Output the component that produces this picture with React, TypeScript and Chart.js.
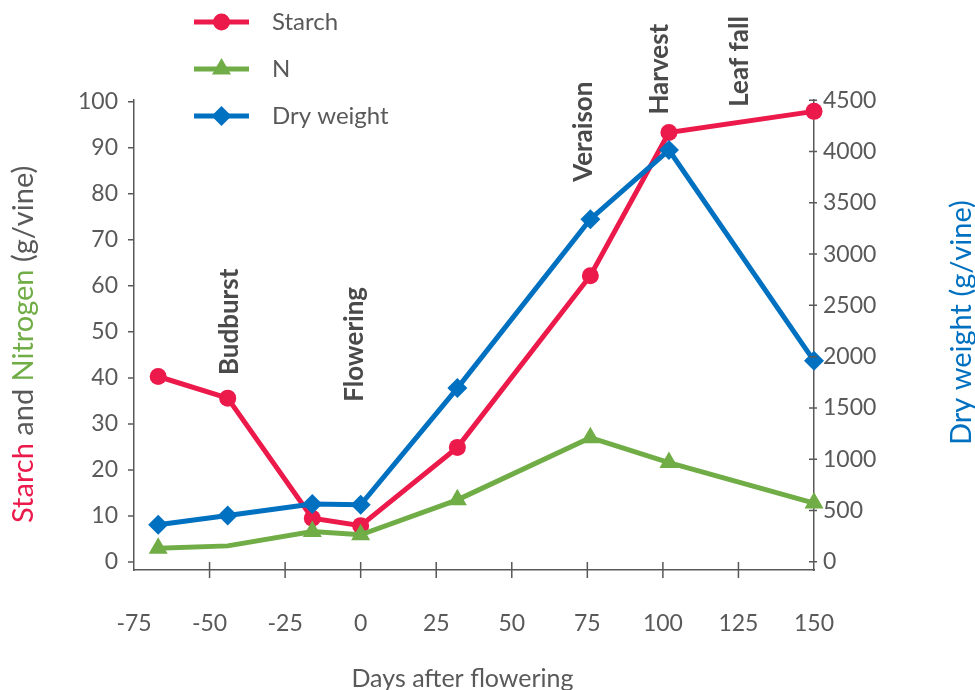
import React, { useEffect, useRef } from 'react';
import { Chart, registerables } from 'chart.js';

Chart.register(...registerables);

// ---- data ----
const days = [-67, -44, -16, 0, 32, 76, 102, 150];
const starch = [40.3, 35.6, 9.5, 7.9, 24.9, 62.2, 93.3, 97.9];
const nitrogen = [3.0, 3.5, 6.6, 5.9, 13.5, 27.0, 21.6, 12.8];
const dryWeight = [360, 451, 562, 555, 1693, 3340, 4015, 1959];
const nitrogenUnmarked = [1];

const xTicks = [-75, -50, -25, 0, 25, 50, 75, 100, 125, 150];
const leftTicks = [0, 10, 20, 30, 40, 50, 60, 70, 80, 90, 100];
const rightTicks = [0, 500, 1000, 1500, 2000, 2500, 3000, 3500, 4000, 4500];

const stages = ['Budburst', 'Flowering', 'Veraison', 'Harvest', 'Leaf fall'];
const stageDays = [-40.7, 0.7, 76.5, 101.7, 128.1];
const stageLevels = [40.6, 34.8, 82.6, 97.2, 98.9];

const seriesNames = ['Starch', 'N', 'Dry weight'];
const xTitle = 'Days after flowering';
const rightTitle = 'Dry weight (g/vine)';

// ---- style ----
const FONT = 'Lato';
const RED = '#EC1A4B';
const GREEN = '#70AD47';
const BLUE = '#0070C0';
const TEXT = '#595959';
const AXIS = '#595959';
const ANNOT = '#4A4A4A';

function drawMarker(ctx: CanvasRenderingContext2D, kind: string, cx: number, cy: number, color: string) {
  ctx.fillStyle = color;
  ctx.beginPath();
  if (kind === 'circle') {
    ctx.arc(cx, cy, 8.5, 0, Math.PI * 2);
  } else if (kind === 'triangle') {
    const r = 11;
    ctx.moveTo(cx, cy - r);
    ctx.lineTo(cx + r * Math.sin((2 * Math.PI) / 3), cy + r / 2);
    ctx.lineTo(cx - r * Math.sin((2 * Math.PI) / 3), cy + r / 2);
  } else {
    const r = 10;
    ctx.moveTo(cx - r, cy);
    ctx.lineTo(cx, cy - r);
    ctx.lineTo(cx + r, cy);
    ctx.lineTo(cx, cy + r);
  }
  ctx.closePath();
  ctx.fill();
}

const decorPlugin = {
  id: 'decor',
  afterDraw(chart: any) {
    const ctx: CanvasRenderingContext2D = chart.ctx;
    const a = chart.chartArea;
    const xs = chart.scales.x;
    const yl = chart.scales.yL;
    const yr = chart.scales.yR;
    ctx.save();

    // tick marks
    ctx.strokeStyle = AXIS;
    ctx.lineWidth = 1.5;
    ctx.beginPath();
    xTicks.forEach((v) => {
      if (v <= xs.min || v >= xs.max) return;
      const px = xs.getPixelForValue(v);
      ctx.moveTo(px, a.bottom - 8);
      ctx.lineTo(px, a.bottom + 8);
    });
    leftTicks.forEach((v) => {
      const py = yl.getPixelForValue(v);
      ctx.moveTo(a.left - 6, py);
      ctx.lineTo(a.left, py);
    });
    rightTicks.forEach((v) => {
      const py = yr.getPixelForValue(v);
      ctx.moveTo(a.right - 5, py);
      ctx.lineTo(a.right + 3, py);
    });
    ctx.stroke();

    // stage annotations
    ctx.fillStyle = ANNOT;
    ctx.font = `bold 26px ${FONT}`;
    ctx.textAlign = 'left';
    ctx.textBaseline = 'alphabetic';
    stages.forEach((s, i) => {
      ctx.save();
      ctx.translate(xs.getPixelForValue(stageDays[i]), yl.getPixelForValue(stageLevels[i]));
      ctx.rotate(-Math.PI / 2);
      ctx.fillText(s, 0, 0);
      ctx.restore();
    });

    // legend
    const legendColors = [RED, GREEN, BLUE];
    const legendKinds = ['circle', 'triangle', 'diamond'];
    ctx.font = `24px ${FONT}`;
    ctx.textBaseline = 'middle';
    seriesNames.forEach((name, i) => {
      const cy = 22 + i * 47;
      ctx.strokeStyle = legendColors[i];
      ctx.lineWidth = 5;
      ctx.beginPath();
      ctx.moveTo(194, cy);
      ctx.lineTo(249, cy);
      ctx.stroke();
      drawMarker(ctx, legendKinds[i], 221.5, cy, legendColors[i]);
      ctx.fillStyle = TEXT;
      ctx.fillText(name, 272, cy);
    });

    // left title (multi-coloured)
    ctx.textBaseline = 'alphabetic';
    ctx.font = `29px ${FONT}`;
    const parts: [string, string][] = [
      ['Starch', RED],
      [' and ', TEXT],
      ['Nitrogen', GREEN],
      [' (g/vine)', TEXT],
    ];
    ctx.save();
    ctx.translate(33, 523);
    ctx.rotate(-Math.PI / 2);
    let off = 0;
    parts.forEach(([t, c]) => {
      ctx.fillStyle = c;
      ctx.fillText(t, off, 0);
      off += ctx.measureText(t).width;
    });
    ctx.restore();

    // right title
    ctx.save();
    ctx.translate(971, 445);
    ctx.rotate(-Math.PI / 2);
    ctx.fillStyle = BLUE;
    ctx.fillText(rightTitle, 0, 0);
    ctx.restore();

    // x title
    ctx.font = `25px ${FONT}`;
    ctx.fillStyle = TEXT;
    ctx.textAlign = 'center';
    ctx.fillText(xTitle, 462.5, 687);

    ctx.restore();
  },
};

export default function App() {
  const ref = useRef<HTMLCanvasElement>(null);
  useEffect(() => {
    document.body.style.margin = '0';
    const toPts = (vals: number[]) => vals.map((v, i) => ({ x: days[i], y: v }));
    const tickFont = { family: FONT, size: 23 };
    const plain = (v: any) => String(v);
    const chart = new Chart(ref.current as HTMLCanvasElement, {
      type: 'line',
      data: {
        datasets: [
          {
            label: seriesNames[0],
            data: toPts(starch),
            yAxisID: 'yL',
            borderColor: RED,
            backgroundColor: RED,
            borderWidth: 5,
            pointStyle: 'circle',
            pointRadius: 8.5,
            pointBorderWidth: 0,
            tension: 0,
            clip: false,
            order: 3,
          },
          {
            label: seriesNames[1],
            data: toPts(nitrogen),
            yAxisID: 'yL',
            borderColor: GREEN,
            backgroundColor: GREEN,
            borderWidth: 5,
            pointStyle: 'triangle',
            pointRadius: (c: any) => (nitrogenUnmarked.includes(c.dataIndex) ? 0 : 11),
            pointBorderWidth: 0,
            tension: 0,
            clip: false,
            order: 2,
          },
          {
            label: seriesNames[2],
            data: toPts(dryWeight),
            yAxisID: 'yR',
            borderColor: BLUE,
            backgroundColor: BLUE,
            borderWidth: 5,
            pointStyle: 'rectRot',
            pointRadius: 10,
            pointBorderWidth: 0,
            tension: 0,
            clip: false,
            order: 1,
          },
        ],
      } as any,
      options: {
        responsive: false,
        animation: false,
        layout: { padding: { top: 100, left: 0, right: 0, bottom: 0 } },
        plugins: { legend: { display: false }, tooltip: { enabled: false } },
        scales: {
          x: {
            type: 'linear',
            min: -75,
            max: 150,
            afterBuildTicks: (s: any) => {
              s.ticks = xTicks.map((v) => ({ value: v }));
            },
            afterFit: (s: any) => {
              s.height = 120;
            },
            grid: { display: false, drawTicks: false },
            border: { display: true, color: AXIS, width: 1.5 },
            ticks: { font: tickFont, color: TEXT, padding: 40, maxRotation: 0, autoSkip: false, callback: plain },
          },
          yL: {
            type: 'linear',
            position: 'left',
            min: -1.74,
            max: 100.37,
            afterBuildTicks: (s: any) => {
              s.ticks = leftTicks.map((v) => ({ value: v }));
            },
            afterFit: (s: any) => {
              s.width = 134;
            },
            grid: { display: false, drawTicks: false },
            border: { display: true, color: AXIS, width: 1.5 },
            ticks: { font: tickFont, color: TEXT, padding: 16, callback: plain },
          },
          yR: {
            type: 'linear',
            position: 'right',
            min: -81,
            max: 4503,
            afterBuildTicks: (s: any) => {
              s.ticks = rightTicks.map((v) => ({ value: v }));
            },
            afterFit: (s: any) => {
              s.width = 161;
            },
            grid: { display: false, drawTicks: false },
            border: { display: true, color: AXIS, width: 1.5 },
            ticks: { font: tickFont, color: TEXT, padding: 9, callback: plain },
          },
        },
      } as any,
      plugins: [decorPlugin],
    });
    return () => chart.destroy();
  }, []);
  return (
    <div style={{ position: 'absolute', left: 0, top: 0, width: 975, height: 690 }}>
      <canvas ref={ref} width={975} height={690} style={{ display: 'block', width: 975, height: 690 }} />
    </div>
  );
}
